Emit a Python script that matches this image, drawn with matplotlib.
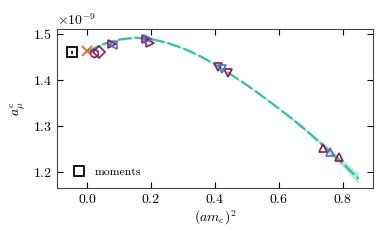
import numpy as np
import matplotlib
matplotlib.use("Agg")
from matplotlib import pyplot as plt
from matplotlib.lines import Line2D

plt.rcParams['font.family'] = 'serif'
plt.rcParams['font.serif'] = ['cmr10']
plt.rcParams['mathtext.fontset'] = 'cm'
plt.rcParams['axes.formatter.use_mathtext'] = True
plt.rcParams['font.size'] = 10

scale = 1e-9

# fit curve
fit_x = [0.00, 0.05, 0.10, 0.15, 0.20, 0.25, 0.30, 0.35, 0.40, 0.45,
         0.50, 0.55, 0.60, 0.65, 0.70, 0.75, 0.80, 0.85]
fit_y = [1.462, 1.478, 1.488, 1.492, 1.489, 1.481, 1.469, 1.453, 1.434, 1.412,
         1.389, 1.364, 1.338, 1.311, 1.282, 1.251, 1.219, 1.185]
fit_err = [0.003, 0.002, 0.002, 0.002, 0.002, 0.002, 0.002, 0.002, 0.002, 0.002,
           0.002, 0.002, 0.002, 0.003, 0.004, 0.005, 0.008, 0.012]

# lattice points
purple_x = [0.020, 0.037, 0.076, 0.185, 0.197, 0.410, 0.440, 0.740, 0.788]
purple_y = [1.459, 1.460, 1.478, 1.488, 1.481, 1.428, 1.415, 1.252, 1.232]
purple_m = ['h', 'D', '>', '>', '>', 'v', 'v', '^', '^']

blue_x = [0.082, 0.189, 0.422, 0.760]
blue_y = [1.476, 1.489, 1.424, 1.243]
blue_m = ['<', '>', 'v', '^']

cont_x = [0.0]
cont_y = [1.462]

mom_x = [-0.048]
mom_y = [1.460]
mom_err = [0.004]

purple = '#8c1d55'
blue = '#5b6ad0'
teal = '#35c0a4'

fig = plt.figure(figsize=(3.9, 2.41), dpi=100)
ax = fig.add_axes([0.146, 0.22, 0.81, 0.66])

fx = np.array(fit_x)
fy = np.array(fit_y) * scale
fe = np.array(fit_err) * scale
ax.fill_between(fx, fy - fe, fy + fe, color=teal, alpha=0.35, lw=0)
ax.plot(fx, fy, color=teal, lw=1.6, ls=(0, (6, 1.5)))

for x, y, m in zip(purple_x, purple_y, purple_m):
    ax.plot(x, y * scale, marker=m, ms=6, mfc='none', mec=purple, mew=1.2, ls='none')
for x, y, m in zip(blue_x, blue_y, blue_m):
    ax.plot(x, y * scale, marker=m, ms=5.5, mfc='none', mec=blue, mew=1.2, ls='none')

ax.plot(cont_x, np.array(cont_y) * scale, marker='x', ms=6.5, mew=1.3, color='#e8632e', ls='none')

ax.errorbar(mom_x, np.array(mom_y) * scale, yerr=np.array(mom_err) * scale,
            fmt='s', ms=6.5, mfc='none', mec='black', mew=1.3, ecolor='black',
            elinewidth=1.2, capsize=0)

ax.set_xlim(-0.095, 0.895)
ax.set_ylim(1.165e-9, 1.511e-9)
ax.set_xticks([0.0, 0.2, 0.4, 0.6, 0.8])
ax.set_yticks([1.2e-9, 1.3e-9, 1.4e-9, 1.5e-9])
ax.tick_params(direction='in', top=True, right=True, length=4)
for s in ax.spines.values():
    s.set_color('#444444')

ax.set_xlabel(r'$(am_c)^2$', labelpad=2)
ax.set_ylabel(r'$a_\mu^c$', labelpad=4)

handle = Line2D([], [], marker='s', ms=7, mfc='none', mec='black', mew=1.3, ls='none')
ax.legend([handle], ['moments'], loc='lower left', frameon=False,
          handletextpad=0.3, fontsize=8.5)

fig.savefig('out.png', dpi=100)
